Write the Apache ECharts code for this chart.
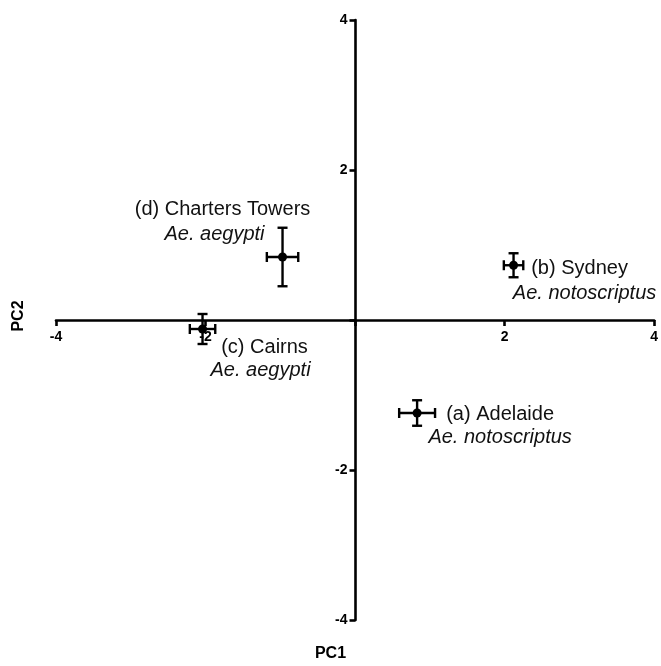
<!DOCTYPE html>
<html>
<head>
<meta charset="utf-8">
<script src="https://cdn.jsdelivr.net/npm/echarts@6/dist/echarts.min.js"></script>
<style>
html,body{margin:0;padding:0;background:#fff;}
#chart{width:661px;height:666px;}
</style>
</head>
<body>
<div id="chart"></div>
<script>
// ---- data ----
const sites = ['(a) Adelaide', '(b) Sydney', '(c) Cairns', '(d) Charters Towers'];
const species = ['Ae. notoscriptus', 'Ae. notoscriptus', 'Ae. aegypti', 'Ae. aegypti'];
const pc1 = [0.83, 2.12, -2.04, -0.97];
const pc2 = [-1.24, 0.73, -0.12, 0.84];
const pc1Err = [0.24, 0.13, 0.17, 0.21];
const pc2Err = [0.17, 0.16, 0.20, 0.39];
const axisTicks = [-4, -2, 0, 2, 4];
const xTitle = 'PC1';
const yTitle = 'PC2';

// ---- layout (label placement relative to points, pixels) ----
const nameOffsets = [[83, 1], [66, 3], [62, 18], [-60, -48]];
const speciesOffsets = [[83, 24], [71, 28], [58, 41], [-68, -23]];

const chart = echarts.init(document.getElementById('chart'), null, {renderer: 'canvas'});

const pts = pc1.map((x, i) => [x, pc2[i], pc1Err[i], pc2Err[i]]);

const gridBox = {left: 56, right: 6, top: 20, bottom: 46};
const gridW = 661 - gridBox.left - gridBox.right;
const gridH = 666 - gridBox.top - gridBox.bottom;

function axisCommon() {
  return {
    type: 'value',
    min: axisTicks[0],
    max: axisTicks[axisTicks.length - 1],
    interval: 2,
    splitLine: {show: false},
    axisLine: {show: true, onZero: false, lineStyle: {color: '#000', width: 2.6}},
    axisTick: {show: true, length: 6, lineStyle: {color: '#000', width: 2.6}},
    axisLabel: {
      show: true,
      color: '#000',
      fontFamily: 'Liberation Sans, Arial, sans-serif',
      fontWeight: 'bold',
      fontSize: 14,
      formatter: v => (v === 0 ? '' : String(v))
    }
  };
}

const xAxis = axisCommon();
xAxis.position = 'bottom';
xAxis.offset = -gridH / 2;
xAxis.axisLabel.margin = 10;
const yAxis = axisCommon();
yAxis.position = 'left';
yAxis.offset = -gridW / 2;
yAxis.axisLabel.margin = 8;

const textFont = 'Liberation Sans, Arial, sans-serif';

function labelSeries(texts, offsets, italic) {
  return {
    type: 'scatter',
    symbolSize: 0,
    silent: true,
    itemStyle: {opacity: 1},
    data: pc1.map((x, i) => ({
      value: [x, pc2[i]],
      label: {offset: offsets[i]}
    })),
    label: {
      show: true,
      position: 'inside',
      align: 'center',
      verticalAlign: 'middle',
      color: '#111',
      opacity: 1,
      textBorderWidth: 0,
      fontFamily: textFont,
      fontStyle: italic ? 'italic' : 'normal',
      fontSize: 20,
      formatter: p => texts[p.dataIndex]
    }
  };
}

chart.setOption({
  animation: false,
  backgroundColor: '#fff',
  grid: Object.assign({containLabel: false}, gridBox),
  xAxis: xAxis,
  yAxis: yAxis,
  graphic: [
    {type: 'text', left: 'center', top: 646,
     style: {text: xTitle, font: 'bold 16px ' + textFont, fill: '#000'}},
    {type: 'text', x: 19, y: 316, rotation: Math.PI / 2,
     style: {text: yTitle, font: 'bold 16px ' + textFont, fill: '#000', textAlign: 'center', textVerticalAlign: 'middle'}}
  ],
  series: [
    {
      type: 'custom',
      data: pts,
      z: 5,
      renderItem: function (params, api) {
        const x = api.value(0), y = api.value(1), ex = api.value(2), ey = api.value(3);
        const c = api.coord([x, y]);
        const l = api.coord([x - ex, y]);
        const r = api.coord([x + ex, y]);
        const t = api.coord([x, y + ey]);
        const b = api.coord([x, y - ey]);
        const cap = 5;
        const st = {stroke: '#000', lineWidth: 2.4, fill: null};
        return {
          type: 'group',
          children: [
            {type: 'line', shape: {x1: l[0], y1: c[1], x2: r[0], y2: c[1]}, style: st},
            {type: 'line', shape: {x1: c[0], y1: t[1], x2: c[0], y2: b[1]}, style: st},
            {type: 'line', shape: {x1: l[0], y1: c[1] - cap, x2: l[0], y2: c[1] + cap}, style: st},
            {type: 'line', shape: {x1: r[0], y1: c[1] - cap, x2: r[0], y2: c[1] + cap}, style: st},
            {type: 'line', shape: {x1: c[0] - cap, y1: t[1], x2: c[0] + cap, y2: t[1]}, style: st},
            {type: 'line', shape: {x1: c[0] - cap, y1: b[1], x2: c[0] + cap, y2: b[1]}, style: st},
            {type: 'circle', shape: {cx: c[0], cy: c[1], r: 4.5}, style: {fill: '#000'}}
          ]
        };
      }
    },
    labelSeries(sites, nameOffsets, false),
    labelSeries(species, speciesOffsets, true)
  ]
});
</script>
</body>
</html>
